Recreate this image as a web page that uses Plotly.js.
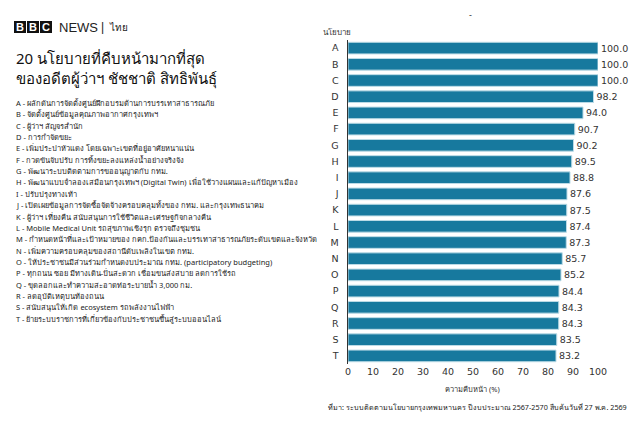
<!DOCTYPE html>
<html><head><meta charset="utf-8">
<script src="https://cdn.plot.ly/plotly-3.0.1.min.js"></script>
<style>html,body{margin:0;padding:0;background:#fff}#chart{width:640px;height:425px}</style>
</head><body><div id="chart"></div>
<script>
const categories = ['A','B','C','D','E','F','G','H','I','J','K','L','M','N','O','P','Q','R','S','T'];
const progress = [100.0,100.0,100.0,98.2,94.0,90.7,90.2,89.5,88.8,87.6,87.5,87.4,87.3,85.7,85.2,84.4,84.3,84.3,83.5,83.2];
const policies = [
 'ผลักดันการจัดตั้งศูนย์ฝึกอบรมด้านการบรรเทาสาธารณภัย',
 'จัดตั้งศูนย์ข้อมูลคุณภาพอากาศกรุงเทพฯ',
 'ผู้ว่าฯ สัญจรสำนัก',
 'การกำจัดขยะ',
 'เพิ่มประปาหัวแดง โดยเฉพาะเขตที่อยู่อาศัยหนาแน่น',
 'กวดขันจับปรับ การทิ้งขยะลงแหล่งน้ำอย่างจริงจัง',
 'พัฒนาระบบติดตามการขออนุญาตกับ กทม.',
 'พัฒนาแบบจำลองเสมือนกรุงเทพฯ (Digital Twin) เพื่อใช้วางแผนและแก้ปัญหาเมือง',
 'ปรับปรุงทางเท้า',
 'เปิดเผยข้อมูลการจัดซื้อจัดจ้างครอบคลุมทั้งของ กทม. และกรุงเทพธนาคม',
 'ผู้ว่าฯ เที่ยงคืน สนับสนุนการใช้ชีวิตและเศรษฐกิจกลางคืน',
 'Mobile Medical Unit รถสุขภาพเชิงรุก ตรวจถึงชุมชน',
 'กำหนดหน้าที่และเป้าหมายของ กคก.ป้องกันและบรรเทาสาธารณภัยระดับเขตและจังหวัด',
 'เพิ่มความครอบคลุมของสถานีดับเพลิงในเขต กทม.',
 'ให้ประชาชนมีส่วนร่วมกำหนดงบประมาณ กทม. (participatory budgeting)',
 'ทุกถนน ซอย มีทางเดิน-ปั่นสะดวก เชื่อมขนส่งสบาย ลดการใช้รถ',
 'ขุดลอกและทำความสะอาดท่อระบายน้ำ 3,000 กม.',
 'ลดอุบัติเหตุบนท้องถนน',
 'สนับสนุนให้เกิด ecosystem รถพลังงานไฟฟ้า',
 'ย้ายระบบราชการที่เกี่ยวข้องกับประชาชนขึ้นสู่ระบบออนไลน์'
];
const titleLines = ['20 นโยบายที่คืบหน้ามากที่สุด','ของอดีตผู้ว่าฯ ชัชชาติ สิทธิพันธุ์'];
const xTitle = 'ความคืบหน้า (%)';
const yTitle = 'นโยบาย';
const sourceText = 'ที่มา: ระบบติดตามนโยบายกรุงเทพมหานคร ปีงบประมาณ 2567-2570 สืบค้นวันที่ 27 พ.ค. 2569';

const L = 348, R = 42, T = 40, B = 61, W = 640, H = 425;
const pw = W - L - R, ph = H - T - B;
const px = x => (x - L) / pw;
const py = y => (H - B - y) / ph;
const FONT = 'Noto Sans, DejaVu Sans, sans-serif';

const annotations = [];
const shapes = [];
// BBC blocks
['B','B','C'].forEach((ch, i) => {
  const x0 = 14 + i * 13;
  shapes.push({type:'rect', xref:'paper', yref:'paper', x0:px(x0), x1:px(x0+12), y0:py(33), y1:py(21), fillcolor:'#111', line:{width:0}, layer:'above'});
  annotations.push({xref:'paper', yref:'paper', x:px(x0+6), y:py(27.5), text:'<b>'+ch+'</b>', showarrow:false, xanchor:'center', yanchor:'middle', font:{family:'Liberation Sans, Arial', size:11, color:'#fff'}});
});
annotations.push({xref:'paper', yref:'paper', x:px(57), y:py(27.5), text:'NEWS', showarrow:false, xanchor:'left', yanchor:'middle', font:{family:'Liberation Sans, Arial', size:13, color:'#222'}});
annotations.push({xref:'paper', yref:'paper', x:px(99), y:py(27), text:'|', showarrow:false, xanchor:'left', yanchor:'middle', font:{family:'Liberation Sans, Arial', size:12, color:'#222'}});
annotations.push({xref:'paper', yref:'paper', x:px(107), y:py(27.5), text:'ไทย', showarrow:false, xanchor:'left', yanchor:'middle', font:{family:FONT, size:10, color:'#222'}});
// title
annotations.push({xref:'paper', yref:'paper', x:px(14), y:py(68), text:titleLines.join('<br>'), showarrow:false, xanchor:'left', yanchor:'middle', align:'left', font:{family:FONT, size:15, color:'#111'}});
// list
categories.forEach((c, i) => {
  annotations.push({xref:'paper', yref:'paper', x:px(14), y:py(103 + i*11.35), text:c + ' - ' + policies[i], showarrow:false, xanchor:'left', yanchor:'middle', font:{family:FONT, size:7.5, color:'#222'}});
});
// y title, dash, x title, source
annotations.push({xref:'paper', yref:'paper', x:px(321), y:py(31), text:yTitle, showarrow:false, xanchor:'left', yanchor:'middle', font:{family:FONT, size:8, color:'#333'}});
annotations.push({xref:'paper', yref:'paper', x:px(470), y:py(14), text:'-', showarrow:false, xanchor:'center', yanchor:'middle', font:{family:FONT, size:9, color:'#333'}});
annotations.push({xref:'paper', yref:'paper', x:px(472), y:py(389), text:xTitle, showarrow:false, xanchor:'center', yanchor:'middle', font:{family:FONT, size:7.5, color:'#333'}});
annotations.push({xref:'paper', yref:'paper', x:px(326), y:py(407), text:sourceText, showarrow:false, xanchor:'left', yanchor:'middle', font:{family:FONT, size:7.2, color:'#222'}});

const trace = {
  type:'bar', orientation:'h', x:progress, y:categories,
  marker:{color:'#17799e', line:{color:'#bcdbe6', width:1}},
  width:0.72,
  text:progress, texttemplate:'%{x:.1f}', textposition:'outside', cliponaxis:false,
  textfont:{family:'DejaVu Sans, sans-serif', size:9.5, color:'#333'},
  hoverinfo:'none'
};
const layout = {
  width:W, height:H, margin:{l:L, r:R, t:T, b:B},
  paper_bgcolor:'#fff', plot_bgcolor:'#fff', showlegend:false,
  xaxis:{range:[0,100], tickvals:[0,10,20,30,40,50,60,70,80,90,100], showgrid:false, zeroline:false, showline:false, ticks:'', ticklen:0, tickfont:{family:'DejaVu Sans, sans-serif', size:9.5, color:'#333'}, fixedrange:true},
  yaxis:{type:'category', autorange:'reversed', showgrid:false, zeroline:false, showline:true, linecolor:'#333', linewidth:1.5, ticks:'', ticklabelstandoff:6, tickfont:{family:'DejaVu Sans, sans-serif', size:9.5, color:'#333'}, fixedrange:true},
  annotations, shapes, font:{family:FONT}
};
Plotly.newPlot('chart', [trace], layout, {displayModeBar:false, staticPlot:true});
</script></body></html>
